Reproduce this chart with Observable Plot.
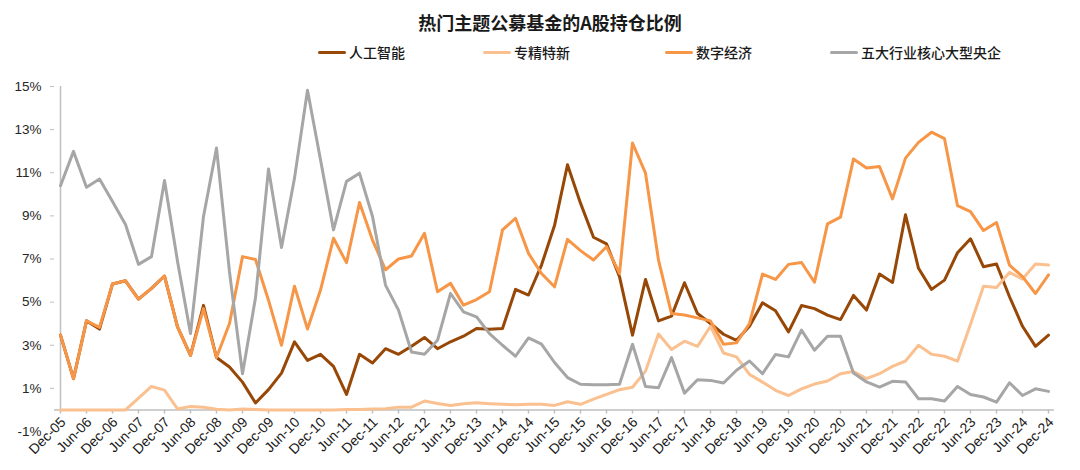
<!DOCTYPE html>
<html><head><meta charset="utf-8">
<script src="https://cdn.jsdelivr.net/npm/d3@7"></script>
<script src="https://cdn.jsdelivr.net/npm/@observablehq/plot@0.6"></script>
<style>
body{margin:0;background:#fff;}
#head{position:relative;width:1080px;height:70px;font-family:"Noto Sans CJK SC",sans-serif;color:#1a1a1a;}
.title{position:absolute;left:20px;width:1060px;top:9px;text-align:center;font-weight:bold;font-size:18px;line-height:26px;}
.leg{position:absolute;top:42px;display:flex;align-items:center;font-size:14px;line-height:20px;font-weight:500;}
.leg i{display:inline-block;width:28px;height:3px;margin-right:3px;border-radius:1.5px;}
</style>
</head><body>
<div id="head"></div>
<div id="chart"></div>
<script>
const title = "热门主题公募基金的A股持仓比例";
const seriesNames = ["人工智能", "专精特新", "数字经济", "五大行业核心大型央企"];
const seriesColors = ["#974706", "#FAC08F", "#F79646", "#A6A6A6"];
const legendLeft = [318, 483, 665, 830];

// quarterly categories, Dec-05 .. Dec-24
const monthNames = ["Mar", "Jun", "Sep", "Dec"];
const quarters = ["Dec-05"];
for (let y = 6; y <= 24; y++) for (const m of monthNames) quarters.push(m + "-" + String(y).padStart(2, "0"));

const xTickLabels = ["Dec-05","Jun-06","Dec-06","Jun-07","Dec-07","Jun-08","Dec-08","Jun-09","Dec-09","Jun-10","Dec-10","Jun-11","Dec-11","Jun-12","Dec-12","Jun-13","Dec-13","Jun-14","Dec-14","Jun-15","Dec-15","Jun-16","Dec-16","Jun-17","Dec-17","Jun-18","Dec-18","Jun-19","Dec-19","Jun-20","Dec-20","Jun-21","Dec-21","Jun-22","Dec-22","Jun-23","Dec-23","Jun-24","Dec-24"];
const yTicks = [-1, 1, 3, 5, 7, 9, 11, 13, 15];

const aiValues = [3.47,1.45,4.13,3.75,5.84,5.99,5.14,5.64,6.21,3.85,
  2.53,4.85,2.43,1.99,1.29,0.32,0.94,1.71,3.16,2.3,
  2.58,2.02,0.72,2.58,2.18,2.84,2.58,2.95,3.36,2.84,
  3.16,3.42,3.78,3.74,3.78,5.59,5.33,6.72,8.55,11.37,
  9.59,8.01,7.7,6.18,3.47,6.05,4.13,4.35,5.9,4.47,
  4.01,3.51,3.23,3.88,4.97,4.6,3.62,4.84,4.7,4.4,
  4.19,5.31,4.63,6.3,5.91,9.05,6.57,5.59,6.02,7.29,
  7.94,6.64,6.77,5.25,3.88,2.95,3.47];
const sriValues = [0,0,0,0,0,0,0.55,1.09,0.92,0.05,
  0.16,0.12,0.03,0,0.04,0.02,0,0,0,0,
  0,0,0.02,0.02,0.04,0.05,0.13,0.13,0.41,0.3,
  0.21,0.29,0.33,0.29,0.26,0.24,0.26,0.26,0.21,0.38,
  0.26,0.5,0.72,0.94,1.05,1.8,3.52,2.8,3.19,2.95,
  3.88,2.64,2.46,1.65,1.29,0.91,0.67,0.98,1.2,1.34,
  1.68,1.78,1.45,1.68,2.02,2.27,3.0,2.58,2.49,2.26,
  3.97,5.74,5.68,6.38,6.07,6.77,6.72];
const digitalValues = [3.47,1.45,4.13,3.83,5.84,5.99,5.14,5.64,6.21,3.85,
  2.53,4.7,2.43,4.01,7.11,6.98,5.09,3.0,5.74,3.75,
  5.56,7.96,6.83,9.62,7.88,6.5,7.0,7.14,8.19,5.48,
  5.87,4.86,5.12,5.48,8.35,8.89,7.26,6.33,5.71,7.91,
  7.39,6.95,7.57,6.33,12.38,10.98,6.95,4.47,4.4,4.27,
  4.13,3.05,3.11,4.01,6.3,6.05,6.75,6.84,5.92,8.63,
  8.94,11.64,11.22,11.29,9.79,11.68,12.41,12.88,12.58,9.47,
  9.2,8.32,8.69,6.72,6.18,5.4,6.26];
const soeValues = [10.4,11.99,10.33,10.71,9.67,8.6,6.75,7.11,10.64,6.9,
  3.54,8.97,12.15,6.4,1.68,5.2,11.17,7.53,10.75,14.83,
  11.6,8.35,10.6,10.98,8.97,5.79,4.63,2.69,2.58,3.23,
  5.4,4.55,4.32,3.54,3.0,2.49,3.34,3.05,2.2,1.5,
  1.19,1.17,1.17,1.19,3.05,1.09,1.03,2.43,0.78,1.4,
  1.37,1.25,1.84,2.27,1.68,2.57,2.46,3.7,2.77,3.42,
  3.42,1.71,1.3,1.06,1.33,1.3,0.52,0.52,0.41,1.09,
  0.72,0.6,0.36,1.26,0.67,0.98,0.86];
const seriesValues = [aiValues, sriValues, digitalValues, soeValues];

// header: title + legend
const head = document.getElementById("head");
const t = document.createElement("div");
t.className = "title"; t.textContent = title; head.appendChild(t);
seriesNames.forEach((n, k) => {
  const d = document.createElement("div");
  d.className = "leg"; d.style.left = legendLeft[k] + "px";
  const sw = document.createElement("i"); sw.style.background = seriesColors[k];
  d.appendChild(sw); d.appendChild(document.createTextNode(n));
  head.appendChild(d);
});

const lines = seriesValues.map((vals, k) =>
  Plot.lineY(vals, {x: quarters, y: d => d, stroke: seriesColors[k], strokeWidth: 3, strokeLinejoin: "round", strokeLinecap: "round"}));

const chart = Plot.plot({
  width: 1080, height: 400,
  marginLeft: 54, marginRight: 26, marginTop: 16, marginBottom: 39,
  x: {type: "point", domain: quarters, padding: 0, axis: null},
  y: {domain: [-1, 15], axis: null},
  style: {fontFamily: "'Liberation Sans', Arial, sans-serif", fontSize: "13px", background: "white", overflow: "visible"},
  marks: [
    Plot.ruleY([0], {stroke: "#BFBFBF", strokeWidth: 1.5}),
    Plot.ruleX([quarters[0]], {y1: 0, y2: 15, stroke: "#BFBFBF", strokeWidth: 1.5}),
    Plot.axisY({ticks: yTicks, tickSize: 4, tickPadding: 9, tickFormat: d => d + "%", stroke: "#BFBFBF", fill: "#262626", fontSize: 13.5}),
    Plot.ruleX(xTickLabels, {x: d => d, y1: 0, y2: -0.19, stroke: "#BFBFBF", strokeWidth: 1.5}),
    Plot.text(xTickLabels, {x: d => d, y: 0, text: d => d, rotate: -45, textAnchor: "end", lineAnchor: "top", dx: -1, dy: 6, fill: "#1a1a1a", fontSize: 14}),
    ...lines
  ]
});
document.getElementById("chart").appendChild(chart);
</script>
</body></html>
